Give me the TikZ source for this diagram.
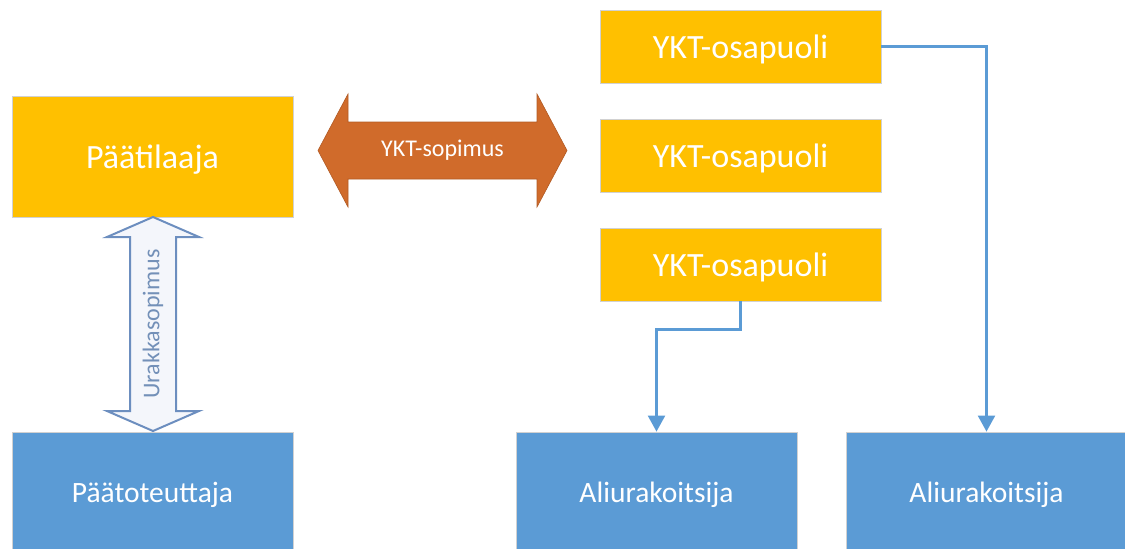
\documentclass[tikz,border=0pt]{standalone}
\usepackage{fontspec}
\setmainfont{Carlito}
\usetikzlibrary{arrows.meta}
\definecolor{gold}{HTML}{FFC000}
\definecolor{skyblue}{HTML}{5B9BD5}
\definecolor{rust}{HTML}{D06B2B}
\definecolor{steel}{HTML}{6C8EBF}
\definecolor{steeltext}{HTML}{7390B8}
\definecolor{paleblue}{HTML}{F4F6FB}
\begin{document}
\begin{tikzpicture}[x=1pt,y=-1pt,
  party/.style={rectangle, fill=gold, draw=black!18, line width=0.8pt,
    minimum width=281pt, text=white, text depth=0pt, text height=24pt,
    font=\fontsize{34}{40}\selectfont},
  builder/.style={rectangle, fill=skyblue, draw=black!18, line width=0.8pt,
    minimum width=281pt, minimum height=121pt, text=white,
    text depth=0pt, text height=20pt, font=\fontsize{29.5}{35}\selectfont},
  link/.style={draw=skyblue, line width=2.2pt,
    -{Triangle[width=17pt,length=16pt]}}]
\useasboundingbox (0,0) rectangle (1125,549);

% owner and main contractor
\node[party, minimum height=121pt] (owner) at (152.5,156.5) {Päätilaaja};
\node[builder] (main) at (152.5,492.5) {Päätoteuttaja};

% alliance partners
\node[party, minimum height=73pt] (p1) at (740.5,46.5) {YKT-osapuoli};
\node[party, minimum height=73pt] (p2) at (740.5,155.5) {YKT-osapuoli};
\node[party, minimum height=73pt] (p3) at (740.5,264.5) {YKT-osapuoli};

% subcontractors
\node[builder] (sub1) at (656.5,492.5) {Aliurakoitsija};
\node[builder] (sub2) at (986.5,492.5) {Aliurakoitsija};

% alliance agreement arrow
\filldraw[fill=rust, draw=rust!85!black, line width=0.6pt]
  (318,150.5) -- (348,94) -- (348,122) -- (537,122) -- (537,94)
  -- (567,150.5) -- (537,207) -- (537,179) -- (348,179) -- (348,207) -- cycle;
\node[text=white, font=\fontsize{24}{28}\selectfont] (yktsop) at (442.5,150.5) {YKT-sopimus};

% contract arrow between owner and main contractor
\filldraw[fill=paleblue, draw=steel, line width=2pt, line join=miter]
  (153,217) -- (199,237) -- (176,237) -- (176,411) -- (199,411)
  -- (153,431) -- (107,411) -- (130,411) -- (130,237) -- (107,237) -- cycle;
\node[text=steeltext, rotate=90, font=\fontsize{24}{28}\selectfont] (urak) at (153,324) {Urakkasopimus};

% partner-to-subcontractor links
\draw[link] (p1.east) -| (sub2.north);
\draw[link] (p3.south) -- ++(0,28) -| (sub1.north);
\end{tikzpicture}
\end{document}
